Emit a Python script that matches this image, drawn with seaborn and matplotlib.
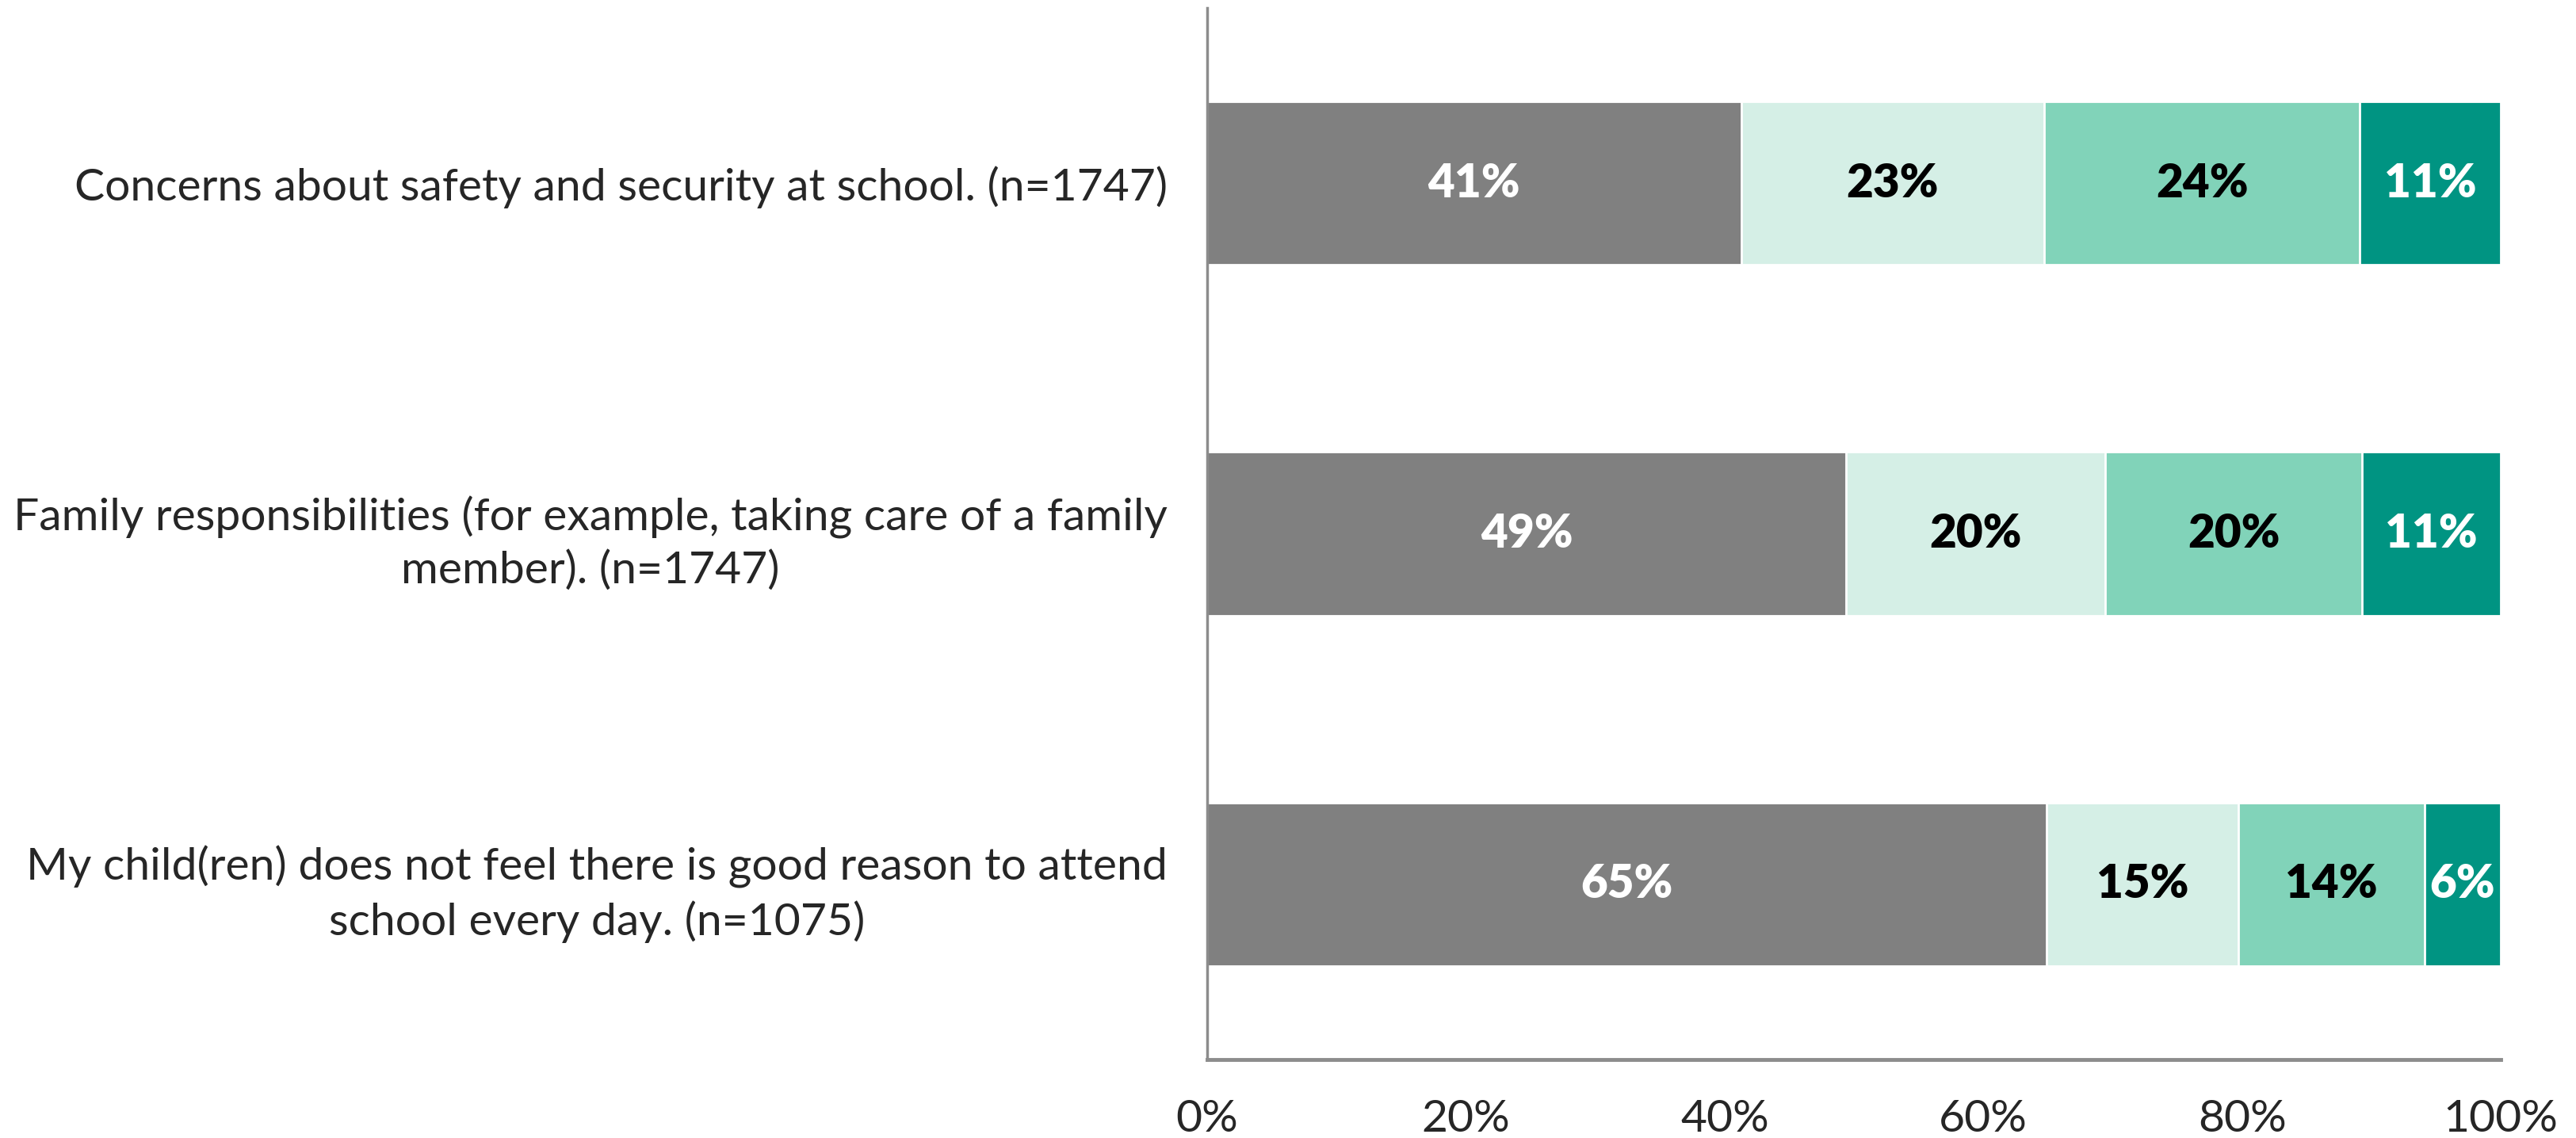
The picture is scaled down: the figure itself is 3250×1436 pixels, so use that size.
import matplotlib
matplotlib.use("Agg")
import matplotlib.pyplot as plt
import seaborn as sns
import numpy as np
import pandas as pd

# Survey items (top to bottom) and share of responses per answer level
categories = [
    "Concerns about safety and security at school. (n=1747)",
    "Family responsibilities (for example, taking care of a family\nmember). (n=1747)",
    "My child(ren) does not feel there is good reason to attend\nschool every day. (n=1075)",
]
level_1 = [41.3, 49.4, 64.9]
level_2 = [23.4, 20.0, 14.8]
level_3 = [24.4, 19.9, 14.4]
level_4 = [10.9, 10.7, 5.9]

levels = [level_1, level_2, level_3, level_4]
colors = ["#808080", "#D5EFE6", "#81D3B9", "#009482"]
text_colors = ["white", "black", "black", "white"]
tick_values = [0, 20, 40, 60, 80, 100]

sns.set_theme(style="white")
plt.rcParams["font.family"] = ["Lato", "DejaVu Sans"]

fig = plt.figure(figsize=(32.5, 14.36), dpi=100)
ax = fig.add_axes([0.4686, 0.069, 0.5022, 0.924])

cum = np.cumsum(np.array(levels), axis=0)
# Stack by overlaying cumulative totals, widest first
for i in range(len(levels) - 1, -1, -1):
    df = pd.DataFrame({"category": categories, "value": cum[i]})
    sns.barplot(data=df, x="value", y="category", orient="h", color=colors[i],
                saturation=1, width=0.466, edgecolor="white", linewidth=2.0, ax=ax)

starts = np.vstack([np.zeros(len(categories)), cum[:-1]])
for i, vals in enumerate(levels):
    for j, v in enumerate(vals):
        ax.text(starts[i][j] + v / 2, j, f"{v:.0f}%", ha="center", va="center",
                fontsize=42, fontweight="heavy", color=text_colors[i])

ax.set_xlim(0, 100)
ax.set_ylim(2.5, -0.5)
ax.set_xticks(tick_values)
ax.set_xticklabels([f"{t}%" for t in tick_values])
ax.set_xlabel("")
ax.set_ylabel("")
ax.tick_params(axis="x", length=0, pad=36, labelsize=41)
ax.tick_params(axis="y", length=0, pad=36, labelsize=41)
for lbl in ax.get_yticklabels():
    lbl.set_multialignment("center")
    lbl.set_linespacing(1.35)

for side in ["top", "right"]:
    ax.spines[side].set_visible(False)
ax.spines["left"].set_color("#8C8C8C")
ax.spines["left"].set_linewidth(2.5)
ax.spines["bottom"].set_color("#8C8C8C")
ax.spines["bottom"].set_linewidth(3.5)

fig.savefig("out.png", dpi=100)
